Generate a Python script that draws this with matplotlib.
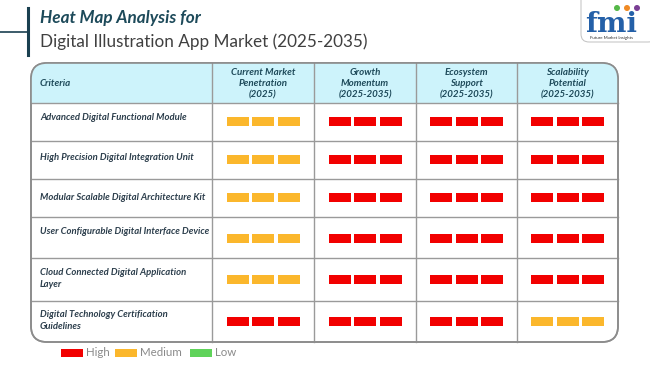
import matplotlib
matplotlib.use('Agg')
import matplotlib.pyplot as plt
from matplotlib.patches import Rectangle, FancyBboxPatch, Circle

plt.rcParams['font.family'] = ['Lato', 'DejaVu Sans']

# data
criteria = ['Advanced Digital Functional Module',
            'High Precision Digital Integration Unit',
            'Modular Scalable Digital Architecture Kit',
            'User Configurable Digital Interface Device',
            'Cloud Connected Digital Application\nLayer',
            'Digital Technology Certification\nGuidelines']
columns = ['Current Market\nPenetration\n(2025)',
           'Growth\nMomentum\n(2025-2035)',
           'Ecosystem\nSupport\n(2025-2035)',
           'Scalability\nPotential\n(2025-2035)']
levels = [['Medium', 'High', 'High', 'High'],
          ['Medium', 'High', 'High', 'High'],
          ['Medium', 'High', 'High', 'High'],
          ['Medium', 'High', 'High', 'High'],
          ['Medium', 'High', 'High', 'High'],
          ['High', 'High', 'High', 'Medium']]
legend_items = ['High', 'Medium', 'Low']
colors = {'High': '#f20000', 'Medium': '#fbb72c', 'Low': '#5fd35a'}

# layout in pixels
col_x = [31, 212, 314, 416, 517, 618]
row_y = [63, 103, 141, 179, 217, 258, 301, 342]
label_dy = [-4, -2, -1, -6, -1, -1]
teal = '#1e4a5a'
grid_c = '#9a9a9a'

fig = plt.figure(figsize=(6.5, 3.65), dpi=100)
ax = fig.add_axes([0, 0, 1, 1])
ax.set_xlim(0, 650)
ax.set_ylim(365, 0)
ax.axis('off')

# title
ax.plot([28, 28], [8, 55], color='#1a4050', lw=2.2)
ax.plot([0, 28], [32, 32], color='#1a4050', lw=1.2)
ax.text(40, 18, 'Heat Map Analysis for', fontsize=12.3, fontweight='bold',
        style='italic', color='#1d4a5a', va='center')
ax.text(40, 42, 'Digital Illustration App Market (2025-2035)', fontsize=12.3,
        color='#404040', va='center')

# logo
logo = FancyBboxPatch((581, -10), 75, 52, boxstyle='round,pad=0,rounding_size=8',
                      fc='white', ec='#c0c0c0', lw=0.7)
ax.add_patch(logo)
ax.text(611, 24, 'fmi', fontsize=20, fontweight='bold', family='DejaVu Serif',
        color='#2460a8', ha='center', va='center')
for cx, c in zip([617, 627, 637], ['#55b848', '#f08a24', '#7a3e94']):
    ax.add_patch(Circle((cx, 8), 3, fc=c, ec='none'))
ax.text(612, 38, 'Future Market Insights', fontsize=3.2, color='#333333',
        ha='center', va='center')

# table frame
W = col_x[-1] - col_x[0]
H = row_y[-1] - row_y[0]
frame = FancyBboxPatch((col_x[0], row_y[0]), W, H,
                       boxstyle='round,pad=0,rounding_size=16',
                       fc='white', ec='#8c8c8c', lw=1.2, zorder=1)
ax.add_patch(frame)
header = Rectangle((col_x[0], row_y[0]), W, row_y[1] - row_y[0],
                   fc='#cdf3fb', ec='none', zorder=2)
ax.add_patch(header)
header.set_clip_path(frame)
frame2 = FancyBboxPatch((col_x[0], row_y[0]), W, H,
                        boxstyle='round,pad=0,rounding_size=16',
                        fc='none', ec='#8c8c8c', lw=1.2, zorder=5)
ax.add_patch(frame2)

for y in row_y[1:-1]:
    ax.plot([col_x[0], col_x[-1]], [y, y], color=grid_c, lw=1, zorder=3)
for x in col_x[1:-1]:
    ax.plot([x, x], [row_y[0], row_y[-1]], color=grid_c, lw=1, zorder=3)

# headers
ax.text(40, 84, 'Criteria', fontsize=7, fontweight='bold', style='italic',
        color=teal, va='center', zorder=4)
for j, name in enumerate(columns):
    cx = (col_x[j + 1] + col_x[j + 2]) / 2
    ax.text(cx, 84, name, fontsize=7, fontweight='bold', style='italic',
            color=teal, ha='center', va='center', linespacing=1.35, zorder=4)

# rows
bw, bh, gap = 22, 9, 3.5
for i, label in enumerate(criteria):
    cy = (row_y[i + 1] + row_y[i + 2]) / 2
    ax.text(40, cy + label_dy[i], label, fontsize=6.8, fontweight='bold',
            style='italic', color='#2c3e4c', va='center', linespacing=1.45,
            zorder=4)
    for j, lev in enumerate(levels[i]):
        cx = (col_x[j + 1] + col_x[j + 2]) / 2
        by = cy - 0.5 if i != 3 else cy + 0.5
        for k in range(3):
            x0 = cx - 1.5 * bw - gap + k * (bw + gap)
            ax.add_patch(Rectangle((x0, by - bh / 2), bw, bh, fc=colors[lev],
                                   ec='none', zorder=4))

# legend
lx = 61
for name in legend_items:
    ax.add_patch(Rectangle((lx, 349), 22, 8, fc=colors[name], ec='none'))
    ax.text(lx + 25, 353, name, fontsize=8.3, color='#8a8a8a', va='center')
    lx += {'High': 54, 'Medium': 75, 'Low': 0}[name]

fig.savefig('out.png', dpi=100)
